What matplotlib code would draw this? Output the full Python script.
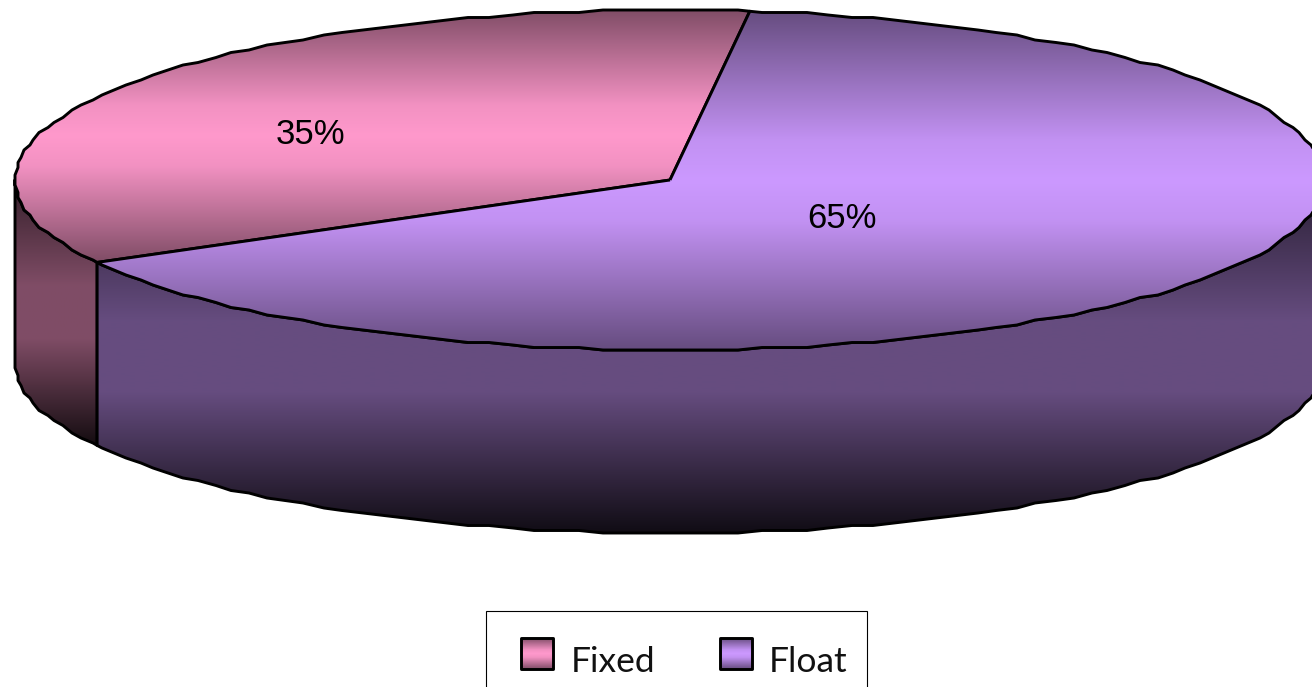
import numpy as np
import matplotlib
matplotlib.use('Agg')
import matplotlib.pyplot as plt
from matplotlib.path import Path
from matplotlib.patches import PathPatch, Rectangle

# data
categories = ['Fixed', 'Float']
shares = [35, 65]
base_colors = ['#ff99cc', '#cc99ff']

# pie shape, in pixels
cx, cy = 670, 180
rx, ry = 655, 170
depth = 183
start_angle = 83

fig = plt.figure(figsize=(13.12, 6.87), dpi=100)
ax = fig.add_axes([0, 0, 1, 1])
ax.axis('off')


def rim(a0, a1, drop=0):
    # points along the ellipse edge, snapped to a coarse grid so it looks hand-plotted
    grid = np.arange(np.ceil(a0 / 2) * 2, a1, 2.0)
    a = np.radians(grid)
    x = np.round((cx + rx * np.cos(a)) / 3) * 3
    y = np.round((cy - ry * np.sin(a)) / 2.5) * 2.5
    pts = np.column_stack([x, y + drop])
    first = np.radians(a0)
    last = np.radians(a1)
    head = [cx + rx * np.cos(first), cy - ry * np.sin(first) + drop]
    tail = [cx + rx * np.cos(last), cy - ry * np.sin(last) + drop]
    return np.vstack([head, pts, tail])


def shaded(pts, color, stops, shades, z):
    # fill a polygon with a vertical gradient fitted to its own height, then outline it
    pts = np.vstack([pts, pts[0]])
    path = Path(pts, closed=True)
    y0, y1 = pts[:, 1].min(), pts[:, 1].max()
    x0, x1 = pts[:, 0].min(), pts[:, 0].max()
    f = np.interp(np.linspace(0, 1, 256), stops, shades)
    rgb = np.array(matplotlib.colors.to_rgb(color))
    img = f[:, None, None] * rgb[None, None, :]
    im = ax.imshow(img, extent=(x0, x1, y1, y0), origin='upper', aspect='auto',
                   interpolation='bilinear', zorder=z)
    patch = PathPatch(path, facecolor='none', edgecolor='black', lw=2.1,
                      joinstyle='round', zorder=z + 0.5)
    ax.add_patch(patch)
    im.set_clip_path(patch)


top_stops = [0, 0.2, 0.38, 0.5, 0.62, 0.8, 1]
top_shades = [0.5, 0.74, 0.95, 1, 0.95, 0.74, 0.5]
side_stops = [0, 0.4, 0.6, 1]
side_shades = [0.2, 0.5, 0.5, 0.08]

# sweep of each slice, anticlockwise from the start angle
sweep = np.array(shares) / sum(shares) * 360
a_end = start_angle + sweep[0]

# outer wall
left_top = rim(180, a_end)
shaded(np.vstack([left_top, rim(180, a_end, depth)[::-1]]), base_colors[0],
       side_stops, side_shades, 1)
right_top = rim(a_end, 360)
shaded(np.vstack([right_top, rim(a_end, 360, depth)[::-1]]), base_colors[1],
       side_stops, side_shades, 2)

# top faces
shaded(np.vstack([[cx, cy], rim(start_angle, a_end)]), base_colors[0],
       top_stops, top_shades, 3)
shaded(np.vstack([[cx, cy], rim(a_end, start_angle + 360)]), base_colors[1],
       top_stops, top_shades, 4)

ax.text(310, 135, f'{shares[0]}%', family='Liberation Sans', fontsize=25,
        ha='center', va='center', color='black', zorder=6)
ax.text(842, 219, f'{shares[1]}%', family='Liberation Sans', fontsize=25,
        ha='center', va='center', color='black', zorder=6)

# legend box runs off the bottom edge
ax.add_patch(Rectangle((485.5, 610.5), 381, 90, facecolor='white',
                       edgecolor='black', lw=0.8, zorder=7))
for name, color, sx, tx in zip(categories, base_colors, [521, 720], [571, 769]):
    box = np.array([[sx, 638], [sx + 32, 638], [sx + 32, 669], [sx, 669]], dtype=float)
    shaded(box, color, top_stops, top_shades, 8)
    ax.text(tx, 672, name, family='Lato', fontweight='normal', fontsize=25.5,
            ha='left', va='baseline', color='#111111', zorder=9)

ax.set_xlim(0, 1312)
ax.set_ylim(687, 0)

fig.savefig('out.png', dpi=100, facecolor='white')
